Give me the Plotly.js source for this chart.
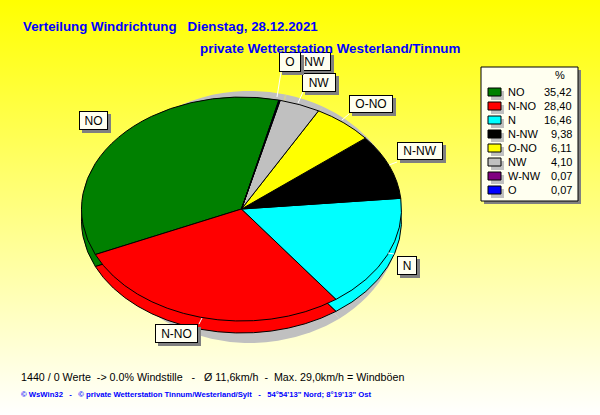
<!DOCTYPE html>
<html>
<head>
<meta charset="utf-8">
<script src="https://cdn.plot.ly/plotly-3.0.1.min.js"></script>
<style>
html,body{margin:0;padding:0;width:600px;height:415px;overflow:hidden;background:linear-gradient(to bottom,#FFFF00 0%,#FFFFFF 100%);}
#chart{width:600px;height:415px;}
.pielayer path{vector-effect:non-scaling-stroke;}
</style>
</head>
<body>
<div id="chart"></div>
<script>
const categories = ['NO','N-NO','N','N-NW','O-NO','NW','W-NW','O'];
const percents = [35.42,28.40,16.46,9.38,6.11,4.10,0.07,0.07];
const percentLabels = ['35,42','28,40','16,46','9,38','6,11','4,10','0,07','0,07'];
const colors = ['#008000','#FF0000','#00FFFF','#000000','#FFFF00','#C0C0C0','#800080','#0000FF'];
const titleLine1 = 'Verteilung Windrichtung   Dienstag, 28.12.2021';
const titleLine2 = 'private Wetterstation Westerland/Tinnum';
const footerLine1 = '1440 / 0 Werte  -> 0.0% Windstille   -   Ø 11,6km/h  -  Max. 29,0km/h = Windböen';
const footerLine2 = '© WsWin32   -   © private Wetterstation Tinnum/Westerland/Sylt   -   54°54\'13" Nord; 8°19\'13" Ost';

const W = 600, H = 415;
const px = x => x / W, py = y => 1 - y / H;
const FONT = 'Liberation Sans, Arial, sans-serif';
const ROT = -114;

function pieTrace(cx, cy, r, cols, line) {
  return {
    type: 'pie', values: percents, labels: categories, sort: false,
    direction: 'counterclockwise', rotation: ROT, textinfo: 'none', hoverinfo: 'label+percent',
    showlegend: false,
    domain: {x: [px(cx - r), px(cx + r)], y: [py(cy + r), py(cy - r)]},
    marker: {colors: cols, line: line}
  };
}
const pies = [
  {cx: 250, cy: 217, r: 151, ry: 126},
  {cx: 241.5, cy: 221, r: 160, ry: 112},
  {cx: 241.5, cy: 209, r: 160, ry: 112}
];
const data = [
  pieTrace(pies[0].cx, pies[0].cy, pies[0].r, categories.map(() => '#C0C0C0'), {width: 0}),
  pieTrace(pies[1].cx, pies[1].cy, pies[1].r, colors, {color: '#000', width: 1}),
  pieTrace(pies[2].cx, pies[2].cy, pies[2].r, colors, {color: '#000', width: 1})
];

const shapes = [], annotations = [];
function rect(x0, y0, x1, y1, fill, line) {
  shapes.push({type: 'rect', xref: 'paper', yref: 'paper', x0: px(x0), x1: px(x1), y0: py(y0), y1: py(y1),
    fillcolor: fill, line: line || {width: 0}, layer: 'above'});
}
function seg(x0, y0, x1, y1) {
  shapes.push({type: 'line', xref: 'paper', yref: 'paper', x0: px(x0), x1: px(x1), y0: py(y0), y1: py(y1),
    line: {color: '#FFFFFF', width: 1}, layer: 'above'});
}
function text(x, y, t, size, color, anchor, bold) {
  annotations.push({xref: 'paper', yref: 'paper', x: px(x), y: py(y), text: bold ? '<b>' + t + '</b>' : t,
    showarrow: false, xanchor: anchor || 'left', yanchor: 'middle', font: {family: FONT, size: size, color: color || '#000'}});
}
function labelBox(name, x0, y0, x1, y1) {
  rect(x0 + 3, y0 + 3, x1 + 3, y1 + 3, '#808080');
  annotations.push({xref: 'paper', yref: 'paper', x: px(x0), y: py(y0), xanchor: 'left', yanchor: 'top',
    width: x1 - x0 - 2, height: y1 - y0 - 2, borderpad: 0, borderwidth: 1, bordercolor: '#000', bgcolor: '#FFFFF0',
    showarrow: false, align: 'center', valign: 'middle', text: name, font: {family: FONT, size: 12, color: '#000'}});
}
function shadowOver(x0, y0, x1, y1) {
  annotations.push({xref: 'paper', yref: 'paper', x: px(x0), y: py(y0), xanchor: 'left', yanchor: 'top',
    width: x1 - x0, height: y1 - y0, borderpad: 0, borderwidth: 0, bgcolor: '#808080',
    showarrow: false, text: ' ', font: {family: FONT, size: 10, color: '#808080'}});
}

// leaders
seg(281, 72, 277, 97); seg(303, 92, 298, 103); seg(349, 114, 342, 120);
seg(397, 162, 389, 165); seg(394, 254, 388, 253); seg(202, 318, 199, 324);
// data labels
labelBox('NO', 79, 111, 108, 130);
labelBox('N-NO', 155, 324, 198, 343);
labelBox('N', 397, 256, 417, 275);
labelBox('N-NW', 397, 142, 443, 160);
labelBox('O-NO', 349, 95, 393, 113);
labelBox('NW', 302, 73, 336, 92);
labelBox('W-NW', 283, 52, 331, 71);
shadowOver(282, 55, 304, 75);
labelBox('O', 279, 52, 301, 72);

// legend box
rect(484, 70, 581, 204, '#808080');
rect(481, 67, 578, 201, '#FFFFF0', {color: '#000', width: 1});
text(560, 75, '%', 11, '#000', 'center');
categories.forEach((c, i) => {
  const yc = 92 + i * 14;
  rect(491, yc - 1, 504, yc + 8, '#C0C0C0');
  rect(488, yc - 4, 501, yc + 4, colors[i], {color: '#000', width: 1});
  text(506, yc, c, 11);
  text(574, yc, percentLabels[i], 11, '#000', 'right');
});

text(19, 377, footerLine1, 10.7);
text(19, 394, footerLine2, 7.7, '#0000FF', 'left', true);
text(198, 49, titleLine2, 13.4, '#0000FF', 'left', true);

const layout = {
  width: W, height: H, margin: {l: 0, r: 0, t: 0, b: 0},
  paper_bgcolor: 'rgba(0,0,0,0)', plot_bgcolor: 'rgba(0,0,0,0)',
  title: {text: '<b>' + titleLine1 + '</b>', x: 23 / W, xanchor: 'left', xref: 'paper', y: 1 - 26 / H, yanchor: 'middle',
    font: {family: FONT, size: 13.3, color: '#0000FF'}},
  shapes: shapes, annotations: annotations, showlegend: false
};

Plotly.newPlot('chart', data, layout, {displayModeBar: false, responsive: false}).then(() => {
  // tilt each disc: the pie's circle is flattened into the chart's ellipse
  document.querySelectorAll('#chart .pielayer .trace').forEach((g, i) => {
    const p = pies[i];
    g.setAttribute('transform', `translate(0,${p.cy}) scale(1,${p.ry / p.r}) translate(0,${-p.cy})`);
  });
});
</script>
</body>
</html>
